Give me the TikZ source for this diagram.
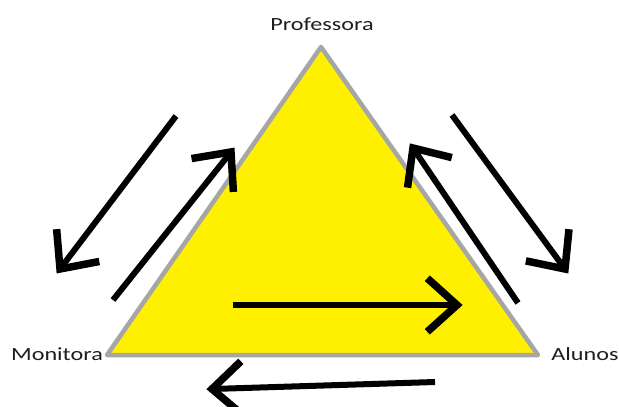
\documentclass[tikz,border=0pt]{standalone}
\usepackage{fontspec}
\setmainfont{Carlito}
\usetikzlibrary{calc}
\definecolor{triyellow}{RGB}{255,240,0}
\definecolor{trigray}{RGB}{166,166,166}
\definecolor{labelcol}{RGB}{30,30,30}
\tikzset{
  lbl/.style={anchor=base, inner sep=0pt, text=labelcol, font=\fontsize{18.6}{20}\selectfont},
  arr/.style={line width=6pt},
  armline/.style={line width=7.5pt, line join=miter, miter limit=4},
  tri/.style={draw=trigray, fill=triyellow, line width=4.5pt, line join=round}
}
\newcommand{\myarrow}[2]{%
  \draw[arr] (#1) -- (#2);
  \draw[armline] ($(#2)!40pt!42:(#1)$) -- (#2) -- ($(#2)!40pt!-42:(#1)$);
}
\begin{document}
\begin{tikzpicture}[x=1pt,y=-1pt]
\useasboundingbox (0,0) rectangle (619,407);
% triangle corners
\coordinate (P) at (321,47);
\coordinate (M) at (107,355);
\coordinate (A) at (538,355);
\draw[tri] (P) -- (A) -- (M) -- cycle;
% labels
\node[lbl] (lp) at (322,30) {\scalebox{1.3}[1]{Professora}};
\node[lbl] (lm) at (57,360) {\scalebox{1.3}[1]{Monitora}};
\node[lbl] (la) at (585,360) {\scalebox{1.3}[1]{Alunos}};
% arrow end points
\coordinate (a1s) at (176,116);
\coordinate (a1e) at (60,269);
\coordinate (a2s) at (113,300);
\coordinate (a2e) at (231,152);
\coordinate (a3s) at (518,303);
\coordinate (a3e) at (413,148);
\coordinate (a4s) at (452,115);
\coordinate (a4e) at (565,269);
\coordinate (a5s) at (233,305);
\coordinate (a5e) at (457,305);
\coordinate (a6s) at (435,382);
\coordinate (a6e) at (212,389);
\myarrow{a1s}{a1e}
\myarrow{a2s}{a2e}
\myarrow{a3s}{a3e}
\myarrow{a4s}{a4e}
\myarrow{a5s}{a5e}
\myarrow{a6s}{a6e}
\end{tikzpicture}
\end{document}
